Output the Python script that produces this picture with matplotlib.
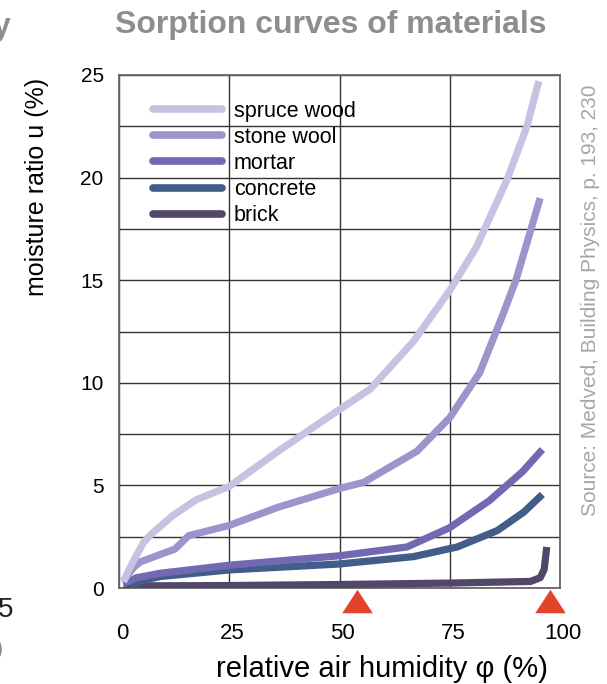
import matplotlib
matplotlib.use("Agg")
import matplotlib.pyplot as plt
from matplotlib.lines import Line2D
from matplotlib.transforms import ScaledTranslation

plt.rcParams["font.family"] = ["Liberation Sans", "DejaVu Sans"]

# sorption curves (phi in %, u in %)
spruce_x = [1, 2.5, 5.5, 7.2, 12, 17.5, 25, 36, 50, 57, 66.7, 75, 81, 88, 92.5, 95.2]
spruce_y = [0.3, 1.0, 2.2, 2.6, 3.5, 4.3, 4.95, 6.65, 8.7, 9.7, 12.0, 14.5, 16.6, 19.9, 22.5, 24.7]

stone_x = [1, 3.3, 4.8, 12.7, 15.8, 25, 36, 50, 55.5, 67.6, 75, 81.8, 87, 90, 95.5]
stone_y = [0.35, 1.0, 1.27, 1.9, 2.55, 3.05, 3.93, 4.85, 5.15, 6.67, 8.3, 10.5, 13.3, 15.0, 19.0]

mortar_x = [1, 4, 9.4, 25, 50, 65.3, 75, 84, 91.5, 96]
mortar_y = [0.2, 0.5, 0.72, 1.11, 1.57, 2.0, 2.94, 4.26, 5.67, 6.75]

concrete_x = [2.5, 5, 9.4, 25, 50, 66.8, 76.7, 85.8, 91.8, 96]
concrete_y = [0.15, 0.35, 0.56, 0.88, 1.17, 1.53, 2.0, 2.8, 3.7, 4.56]

brick_x = [1, 25, 50, 75, 93.3, 95.5, 96.4, 97]
brick_y = [0.1, 0.12, 0.17, 0.24, 0.32, 0.5, 0.9, 2.0]

materials = ["spruce wood", "stone wool", "mortar", "concrete", "brick"]
colors = ["#c6c3e2", "#9b95cb", "#7269b3", "#435d89", "#534769"]

marker_x = [54, 97.7]  # red triangles under the axis

x_ticks = [0, 25, 50, 75, 100]
y_ticks = [0, 5, 10, 15, 20, 25]

fig = plt.figure(figsize=(6.07, 6.84), dpi=100)
ax = fig.add_axes([119 / 607, 1 - 588 / 684, 441 / 607, 513 / 684])

series = [
    (spruce_x, spruce_y),
    (stone_x, stone_y),
    (mortar_x, mortar_y),
    (concrete_x, concrete_y),
    (brick_x, brick_y),
]
# draw brick first so the lighter curves sit on top like in the original
for (xs, ys), c in reversed(list(zip(series, colors))):
    ax.plot(xs, ys, color=c, lw=5.2, solid_capstyle="butt",
            solid_joinstyle="round", zorder=3)

ax.set_xlim(0, 100)
ax.set_ylim(0, 25)
ax.set_xticks(x_ticks)
ax.set_yticks(y_ticks)
ax.set_yticks([2.5, 7.5, 12.5, 17.5, 22.5], minor=True)
ax.grid(True, which="both", color="#333333", lw=1.0, zorder=1)
ax.tick_params(which="both", length=0)
ax.tick_params(axis="x", labelsize=16, pad=25)
ax.tick_params(axis="y", labelsize=15, pad=11)
for lab in ax.get_xticklabels():
    lab.set_transform(lab.get_transform() + ScaledTranslation(0.03, 0, fig.dpi_scale_trans))
for sp in ax.spines.values():
    sp.set_color("#666666")
    sp.set_linewidth(1.3)

# red markers for the humidity range
ax.scatter(marker_x, [-0.025] * len(marker_x), transform=ax.get_xaxis_transform(),
           marker=[(-1.3, -1), (1.3, -1), (0, 1)], s=22 ** 2, color="#e2432b",
           clip_on=False, zorder=5, linewidths=0)

handles = [Line2D([], [], color=c, lw=5.5, solid_capstyle="round") for c in colors]
leg = ax.legend(handles, materials, loc="upper left", bbox_to_anchor=(0.077, 0.950),
                frameon=False, fontsize=15.5, handlelength=3.2, handletextpad=0.55,
                labelspacing=0.24, borderpad=0, borderaxespad=0)
leg.set_zorder(4)

fig.text(331 / 607, 1 - 25 / 684, "Sorption curves of materials", fontsize=23,
         fontweight="bold", color="#8e8e8e", ha="center", va="center")
fig.text(37 / 607, 1 - 187 / 684, "moisture ratio u (%)", fontsize=18,
         rotation=90, ha="center", va="center")
fig.text(382 / 607, 1 - 669 / 684, "relative air humidity \u03c6 (%)", fontsize=21,
         ha="center", va="center")
fig.text(591 / 607, 1 - 300 / 684, "Source: Medved, Building Physics, p. 193, 230",
         fontsize=15, rotation=90, color="#a6a6a6", ha="center", va="center")

# remnants of the neighbouring slide, cut by the frame
fig.text(11 / 607, 1 - 27 / 684, "y", fontsize=23, fontweight="bold",
         color="#8e8e8e", ha="right", va="center")
fig.text(13 / 607, 1 - 610 / 684, "5", fontsize=20, color="#222222",
         ha="right", va="center")
fig.text(3 / 607, 1 - 650 / 684, ")", fontsize=15.5, color="#888888",
         ha="right", va="center")

fig.savefig("out.png", dpi=100)
